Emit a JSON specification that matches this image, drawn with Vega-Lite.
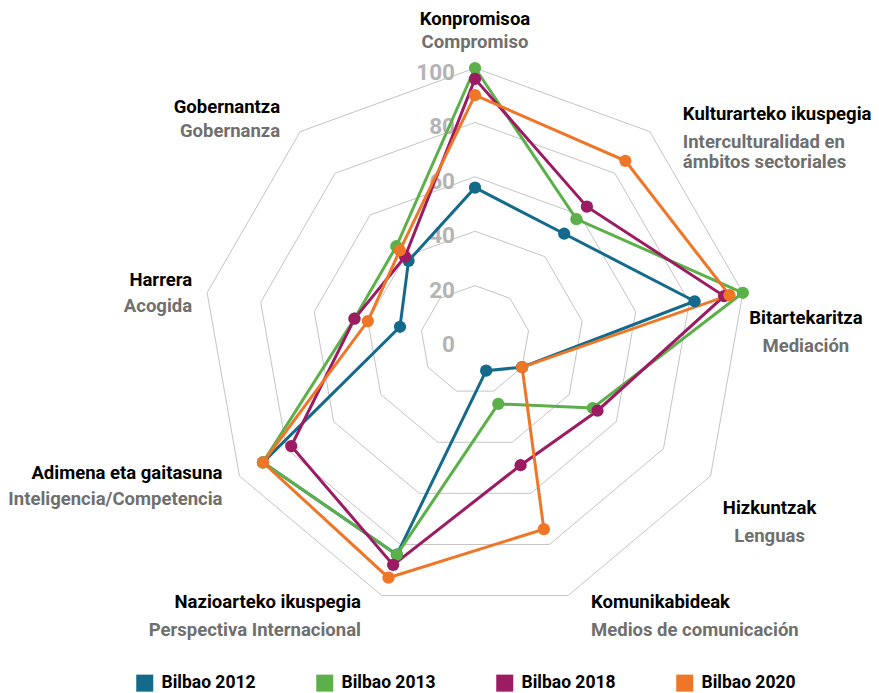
{
  "$schema": "https://vega.github.io/schema/vega-lite/v6.json",
  "width": 879,
  "height": 693,
  "autosize": "none",
  "padding": 0,
  "background": "#ffffff",
  "config": {
    "view": {"stroke": null},
    "font": "Roboto, sans-serif",
    "text": {"font": "Roboto, sans-serif", "fontSize": 18.5, "fontWeight": "bold", "baseline": "middle"}
  },
  "datasets": {
    "scores": [
      {"cat": "Konpromisoa", "year": "Bilbao 2012", "value": 56},
      {"cat": "Kulturarteko ikuspegia", "year": "Bilbao 2012", "value": 51},
      {"cat": "Bitartekaritza", "year": "Bilbao 2012", "value": 82},
      {"cat": "Hizkuntzak", "year": "Bilbao 2012", "value": 20},
      {"cat": "Komunikabideak", "year": "Bilbao 2012", "value": 12},
      {"cat": "Nazioarteko ikuspegia", "year": "Bilbao 2012", "value": 84},
      {"cat": "Adimena eta gaitasuna", "year": "Bilbao 2012", "value": 90},
      {"cat": "Harrera", "year": "Bilbao 2012", "value": 28},
      {"cat": "Gobernantza", "year": "Bilbao 2012", "value": 38},
      {"cat": "Konpromisoa", "year": "Bilbao 2013", "value": 100},
      {"cat": "Kulturarteko ikuspegia", "year": "Bilbao 2013", "value": 58},
      {"cat": "Bitartekaritza", "year": "Bilbao 2013", "value": 100},
      {"cat": "Hizkuntzak", "year": "Bilbao 2013", "value": 50},
      {"cat": "Komunikabideak", "year": "Bilbao 2013", "value": 25},
      {"cat": "Nazioarteko ikuspegia", "year": "Bilbao 2013", "value": 84},
      {"cat": "Adimena eta gaitasuna", "year": "Bilbao 2013", "value": 90},
      {"cat": "Harrera", "year": "Bilbao 2013", "value": 45},
      {"cat": "Gobernantza", "year": "Bilbao 2013", "value": 45},
      {"cat": "Konpromisoa", "year": "Bilbao 2018", "value": 96},
      {"cat": "Kulturarteko ikuspegia", "year": "Bilbao 2018", "value": 64},
      {"cat": "Bitartekaritza", "year": "Bilbao 2018", "value": 93},
      {"cat": "Hizkuntzak", "year": "Bilbao 2018", "value": 52},
      {"cat": "Komunikabideak", "year": "Bilbao 2018", "value": 49},
      {"cat": "Nazioarteko ikuspegia", "year": "Bilbao 2018", "value": 88},
      {"cat": "Adimena eta gaitasuna", "year": "Bilbao 2018", "value": 78},
      {"cat": "Harrera", "year": "Bilbao 2018", "value": 45},
      {"cat": "Gobernantza", "year": "Bilbao 2018", "value": 40},
      {"cat": "Konpromisoa", "year": "Bilbao 2020", "value": 90},
      {"cat": "Kulturarteko ikuspegia", "year": "Bilbao 2020", "value": 86},
      {"cat": "Bitartekaritza", "year": "Bilbao 2020", "value": 95},
      {"cat": "Hizkuntzak", "year": "Bilbao 2020", "value": 20},
      {"cat": "Komunikabideak", "year": "Bilbao 2020", "value": 74},
      {"cat": "Nazioarteko ikuspegia", "year": "Bilbao 2020", "value": 93},
      {"cat": "Adimena eta gaitasuna", "year": "Bilbao 2020", "value": 90},
      {"cat": "Harrera", "year": "Bilbao 2020", "value": 40},
      {"cat": "Gobernantza", "year": "Bilbao 2020", "value": 43}
    ],
    "labels": [
      {"cat": "Konpromisoa", "es": "Compromiso"},
      {"cat": "Kulturarteko ikuspegia", "es": "Interculturalidad en\námbitos sectoriales"},
      {"cat": "Bitartekaritza", "es": "Mediación"},
      {"cat": "Hizkuntzak", "es": "Lenguas"},
      {"cat": "Komunikabideak", "es": "Medios de comunicación"},
      {"cat": "Nazioarteko ikuspegia", "es": "Perspectiva Internacional"},
      {"cat": "Adimena eta gaitasuna", "es": "Inteligencia/Competencia"},
      {"cat": "Harrera", "es": "Acogida"},
      {"cat": "Gobernantza", "es": "Gobernanza"}
    ],
    "levels": [
      {"level": 0}, {"level": 20}, {"level": 40}, {"level": 60}, {"level": 80}, {"level": 100}
    ]
  },
  "layer": [
    {
      "data": {"name": "levels"},
      "transform": [
        {"filter": "datum.level > 0"},
        {"calculate": "['Konpromisoa','Kulturarteko ikuspegia','Bitartekaritza','Hizkuntzak','Komunikabideak','Nazioarteko ikuspegia','Adimena eta gaitasuna','Harrera','Gobernantza']", "as": "cat"},
        {"flatten": ["cat"]},
        {"calculate": "indexof(['Konpromisoa','Kulturarteko ikuspegia','Bitartekaritza','Hizkuntzak','Komunikabideak','Nazioarteko ikuspegia','Adimena eta gaitasuna','Harrera','Gobernantza'], datum.cat) * 2 * PI / 9", "as": "a"},
        {"calculate": "datum.level * sin(datum.a)", "as": "px"},
        {"calculate": "datum.level * cos(datum.a)", "as": "py"}
      ],
      "mark": {"type": "line", "interpolate": "linear-closed", "color": "#c4c4c4", "strokeWidth": 1},
      "encoding": {
        "x": {"field": "px", "type": "quantitative", "scale": {"domain": [-174.63, 148.53], "nice": false, "zero": false}, "axis": null},
        "y": {"field": "py", "type": "quantitative", "scale": {"domain": [-129.78, 125], "nice": false, "zero": false}, "axis": null},
        "detail": {"field": "level", "type": "nominal"},
        "order": {"field": "a", "type": "quantitative"}
      }
    },
    {
      "data": {"name": "levels"},
      "mark": {"type": "text", "align": "right", "dx": -20, "dy": 5, "fontSize": 22.5, "color": "#b4b4b4"},
      "encoding": {
        "x": {"datum": 0, "type": "quantitative"},
        "y": {"field": "level", "type": "quantitative"},
        "text": {"field": "level", "type": "nominal"}
      }
    },
    {
      "data": {"name": "scores"},
      "transform": [
        {"calculate": "indexof(['Konpromisoa','Kulturarteko ikuspegia','Bitartekaritza','Hizkuntzak','Komunikabideak','Nazioarteko ikuspegia','Adimena eta gaitasuna','Harrera','Gobernantza'], datum.cat) * 2 * PI / 9", "as": "a"},
        {"calculate": "datum.value * sin(datum.a)", "as": "px"},
        {"calculate": "datum.value * cos(datum.a)", "as": "py"}
      ],
      "mark": {"type": "line", "interpolate": "linear-closed", "strokeWidth": 3},
      "encoding": {
        "x": {"field": "px", "type": "quantitative"},
        "y": {"field": "py", "type": "quantitative"},
        "order": {"field": "a", "type": "quantitative"},
        "stroke": {
          "field": "year", "type": "nominal", "legend": null,
          "scale": {"domain": ["Bilbao 2020", "Bilbao 2018", "Bilbao 2013", "Bilbao 2012"], "range": ["#ef7627", "#9c1b63", "#5cb04a", "#136a8a"]}
        }
      }
    },
    {
      "data": {"name": "scores"},
      "transform": [
        {"calculate": "indexof(['Konpromisoa','Kulturarteko ikuspegia','Bitartekaritza','Hizkuntzak','Komunikabideak','Nazioarteko ikuspegia','Adimena eta gaitasuna','Harrera','Gobernantza'], datum.cat) * 2 * PI / 9", "as": "a"},
        {"calculate": "datum.value * sin(datum.a)", "as": "px"},
        {"calculate": "datum.value * cos(datum.a)", "as": "py"}
      ],
      "mark": {"type": "circle", "size": 150, "opacity": 1},
      "encoding": {
        "x": {"field": "px", "type": "quantitative"},
        "y": {"field": "py", "type": "quantitative"},
        "color": {
          "field": "year", "type": "nominal",
          "scale": {"domain": ["Bilbao 2012", "Bilbao 2013", "Bilbao 2018", "Bilbao 2020"], "range": ["#136a8a", "#5cb04a", "#9c1b63", "#ef7627"]},
          "legend": {
            "title": null, "orient": "none", "legendX": 136, "legendY": 674, "direction": "horizontal", "columns": 4,
            "symbolType": "square", "symbolSize": 289, "symbolStrokeWidth": 0,
            "labelFont": "Roboto, sans-serif", "labelFontSize": 17.5, "labelFontWeight": "bold", "labelColor": "#000000",
            "labelOffset": 8, "columnPadding": 60, "padding": 0
          }
        }
      }
    },
    {
      "data": {"name": "labels"},
      "transform": [
        {"calculate": "indexof(['Konpromisoa','Kulturarteko ikuspegia','Bitartekaritza','Hizkuntzak','Komunikabideak','Nazioarteko ikuspegia','Adimena eta gaitasuna','Harrera','Gobernantza'], datum.cat) * 2 * PI / 9", "as": "a"},
        {"calculate": "100 * sin(datum.a)", "as": "lx"},
        {"calculate": "100 * cos(datum.a)", "as": "ly"}
      ],
      "encoding": {
        "x": {"field": "lx", "type": "quantitative"},
        "y": {"field": "ly", "type": "quantitative"}
      },
      "layer": [
        {"transform": [{"filter": "datum.cat === 'Konpromisoa'"}], "layer": [
          {"mark": {"type": "text", "align": "center", "dx": 0, "dy": -49, "color": "#000000"}, "encoding": {"text": {"field": "cat"}}},
          {"mark": {"type": "text", "align": "center", "dx": 0, "dy": -26, "color": "#6f6f6f"}, "encoding": {"text": {"field": "es"}}}
        ]},
        {"transform": [{"filter": "datum.cat === 'Kulturarteko ikuspegia'"}], "layer": [
          {"mark": {"type": "text", "align": "left", "dx": 33, "dy": -18, "color": "#000000"}, "encoding": {"text": {"field": "cat"}}},
          {"mark": {"type": "text", "align": "left", "dx": 33, "dy": 10, "lineBreak": "\n", "lineHeight": 20, "color": "#6f6f6f"}, "encoding": {"text": {"field": "es"}}}
        ]},
        {"transform": [{"filter": "datum.cat === 'Bitartekaritza'"}], "layer": [
          {"mark": {"type": "text", "align": "center", "dx": 63, "dy": 25, "color": "#000000"}, "encoding": {"text": {"field": "cat"}}},
          {"mark": {"type": "text", "align": "center", "dx": 63, "dy": 53, "color": "#6f6f6f"}, "encoding": {"text": {"field": "es"}}}
        ]},
        {"transform": [{"filter": "datum.cat === 'Hizkuntzak'"}], "layer": [
          {"mark": {"type": "text", "align": "center", "dx": 59, "dy": 32, "color": "#000000"}, "encoding": {"text": {"field": "cat"}}},
          {"mark": {"type": "text", "align": "center", "dx": 59, "dy": 60, "color": "#6f6f6f"}, "encoding": {"text": {"field": "es"}}}
        ]},
        {"transform": [{"filter": "datum.cat === 'Komunikabideak'"}], "layer": [
          {"mark": {"type": "text", "align": "left", "dx": 23, "dy": 6, "color": "#000000"}, "encoding": {"text": {"field": "cat"}}},
          {"mark": {"type": "text", "align": "left", "dx": 23, "dy": 34, "color": "#6f6f6f"}, "encoding": {"text": {"field": "es"}}}
        ]},
        {"transform": [{"filter": "datum.cat === 'Nazioarteko ikuspegia'"}], "layer": [
          {"mark": {"type": "text", "align": "right", "dx": -21, "dy": 6, "color": "#000000"}, "encoding": {"text": {"field": "cat"}}},
          {"mark": {"type": "text", "align": "right", "dx": -21, "dy": 34, "color": "#6f6f6f"}, "encoding": {"text": {"field": "es"}}}
        ]},
        {"transform": [{"filter": "datum.cat === 'Adimena eta gaitasuna'"}], "layer": [
          {"mark": {"type": "text", "align": "right", "dx": -17, "dy": -3, "color": "#000000"}, "encoding": {"text": {"field": "cat"}}},
          {"mark": {"type": "text", "align": "right", "dx": -17, "dy": 23, "color": "#6f6f6f"}, "encoding": {"text": {"field": "es"}}}
        ]},
        {"transform": [{"filter": "datum.cat === 'Harrera'"}], "layer": [
          {"mark": {"type": "text", "align": "right", "dx": -15, "dy": -13, "color": "#000000"}, "encoding": {"text": {"field": "cat"}}},
          {"mark": {"type": "text", "align": "right", "dx": -15, "dy": 13, "color": "#6f6f6f"}, "encoding": {"text": {"field": "es"}}}
        ]},
        {"transform": [{"filter": "datum.cat === 'Gobernantza'"}], "layer": [
          {"mark": {"type": "text", "align": "right", "dx": -20, "dy": -25, "color": "#000000"}, "encoding": {"text": {"field": "cat"}}},
          {"mark": {"type": "text", "align": "right", "dx": -20, "dy": -1, "color": "#6f6f6f"}, "encoding": {"text": {"field": "es"}}}
        ]}
      ]
    }
  ]
}
